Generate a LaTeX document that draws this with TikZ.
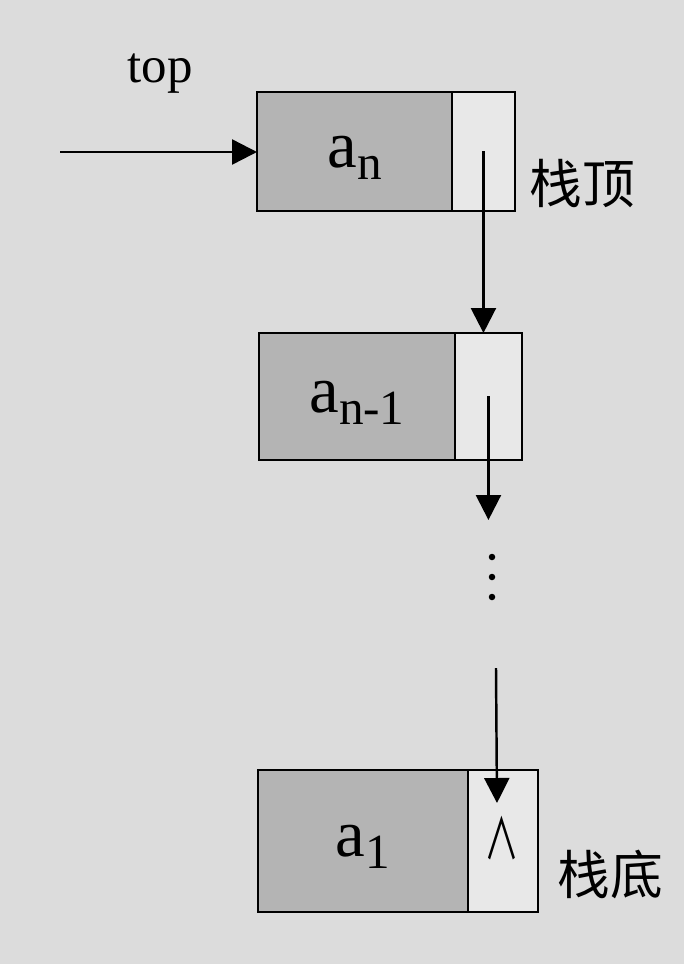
\documentclass[tikz,border=0pt]{standalone}
\usepackage{fontspec}
\setmainfont{Liberation Serif}
\newfontfamily\cjk{Noto Sans CJK SC}
\usetikzlibrary{positioning,arrows.meta}
\definecolor{paper1}{HTML}{DCDCDC}
\definecolor{data1}{HTML}{B4B4B4}
\definecolor{ptr1}{HTML}{E8E8E8}
\newcommand{\idx}[1]{\raisebox{-7pt}{\fontsize{28}{30}\selectfont #1}}

\begin{document}
\begin{tikzpicture}[
    x=0.02cm, y=-0.02cm,
    >={Triangle[length=0.5cm, width=0.5cm]},
    datacell/.style={draw, line width=1.6pt, fill=data1, inner sep=0pt,
                     outer sep=0pt, anchor=north west, text depth=0pt,
                     font=\fontsize{38}{40}\selectfont},
    ptrcell/.style={draw, line width=1.6pt, fill=ptr1, inner sep=0pt,
                    outer sep=0pt},
    link/.style={->, line width=1.4pt},
    side/.style={font=\cjk\fontsize{30}{32}\selectfont},
]
\fill[paper1] (0,0) rectangle (684,964);
\useasboundingbox (0,0) rectangle (684,964);

% stack nodes
\node[datacell, minimum width=3.9cm, minimum height=2.38cm]
    (d1) at (257,92) {a\idx{n}};
\node[ptrcell, minimum width=1.26cm, minimum height=2.38cm, right=0pt of d1]
    (p1) {};
\node[datacell, minimum width=3.92cm, minimum height=2.54cm]
    (d2) at (259,333) {a\idx{n-1}};
\node[ptrcell, minimum width=1.34cm, minimum height=2.54cm, right=0pt of d2]
    (p2) {};
\node[datacell, minimum width=4.2cm, minimum height=2.84cm]
    (d3) at (258,770) {a\idx{1}};
\node[ptrcell, minimum width=1.4cm, minimum height=2.84cm, right=0pt of d3]
    (p3) {};
\node[font=\cjk\fontsize{32}{34}\selectfont] (nil) at (502,838)
    {\scalebox{0.62}[1]{∧}};

% labels
\node[font=\fontsize{29}{31}\selectfont] (toplbl) at (160,74) {top};
\node[side] (toplbl2) at (582,184) {栈顶};
\node[side] (botlbl) at (610,874) {栈底};

% dots between the cells
\foreach \y in {557,577,597}
    \fill (492,\y) circle (0.065cm);

% pointers
\coordinate (start) at (60,152);
\coordinate (tip2) at (490,520);
\coordinate (tail3) at (496,668);
\coordinate (tip3) at (497,803);
\draw[link] (start) -- (start -| d1.west);
\draw[link] (p1.center) -- (p1.center |- p2.north);
\draw[link] (p2.center) -- (p2.center |- tip2);
\draw[link] (tail3) -- (tip3);
\end{tikzpicture}
\end{document}
